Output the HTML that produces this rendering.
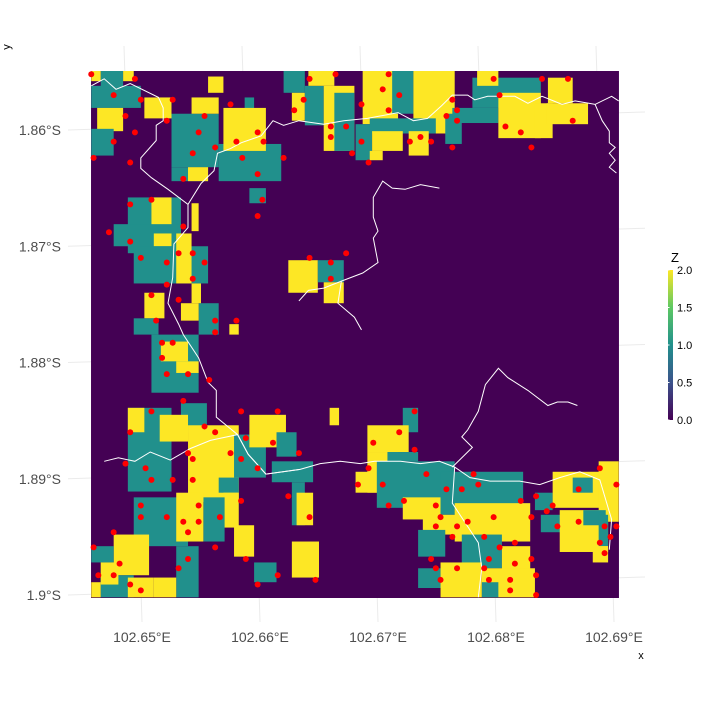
<!DOCTYPE html>
<html><head><meta charset="utf-8"><style>
html,body{margin:0;padding:0;background:#fff;}
svg{display:block;font-family:"Liberation Sans",sans-serif;}
</style></head><body>
<svg id="chart" width="701" height="706" viewBox="0 0 701 706">
<defs>
<clipPath id="panel"><rect x="91" y="71" width="528" height="527"/></clipPath>
<linearGradient id="vir" x1="0" y1="1" x2="0" y2="0">
<stop offset="0" stop-color="#440154"/><stop offset="0.25" stop-color="#3B528B"/><stop offset="0.5" stop-color="#21908C"/><stop offset="0.75" stop-color="#5DC863"/><stop offset="1" stop-color="#FDE725"/>
</linearGradient>
</defs>
<g id="grid"></g>
<g id="raster" clip-path="url(#panel)"></g>
<g id="rivers" clip-path="url(#panel)"></g>
<g id="pts"></g>
<g id="axes"></g>
<g id="legend">
<text x="675" y="262" font-size="13" fill="#000" text-anchor="middle">Z</text>
<rect x="668" y="270" width="5" height="150" fill="url(#vir)"/>
</g>
<text x="641" y="659" font-size="11" fill="#000" text-anchor="middle">x</text>
<text x="0" y="0" font-size="11" fill="#000" text-anchor="middle" transform="translate(10,47) rotate(-90)">y</text>
</svg>
<script>
const xTicks = [102.65, 102.66, 102.67, 102.68, 102.69];
const xTickLabels = ["102.65°E","102.66°E","102.67°E","102.68°E","102.69°E"];
const yTicks = [-1.86, -1.87, -1.88, -1.89, -1.90];
const yTickLabels = ["1.86°S","1.87°S","1.88°S","1.89°S","1.9°S"];
const legendValues = [0, 0.5, 1, 1.5, 2];
const legendLabels = ["0.0","0.5","1.0","1.5","2.0"];
const extent = [102.64568, 102.69042, -1.85492, -1.90026];
// raster patches: [lonMin, lonMax, latNorth, latSouth, Z]
const patches = [
[102.6457,102.6499,-1.8562,-1.8581,1],[102.6465,102.6484,-1.8549,-1.8565,1],[102.6457,102.6465,-1.8549,-1.8558,2],[102.6484,102.6493,-1.8549,-1.8558,2],
[102.6462,102.6484,-1.8581,-1.8601,2],[102.6457,102.6476,-1.8599,-1.8622,1],[102.6502,102.6525,-1.8572,-1.8590,2],[102.6556,102.6569,-1.8554,-1.8568,2],
[102.6525,102.6565,-1.8586,-1.8632,1],[102.6542,102.6565,-1.8572,-1.8586,2],[102.6587,102.6595,-1.8572,-1.8586,1],[102.6565,102.6618,-1.8612,-1.8644,1],
[102.6569,102.6605,-1.8581,-1.8618,2],[102.6525,102.6556,-1.8632,-1.8644,1],[102.6539,102.6556,-1.8632,-1.8644,2],[102.6591,102.6605,-1.8650,-1.8663,1],
[102.6620,102.6638,-1.8549,-1.8568,1],[102.6627,102.6638,-1.8568,-1.8592,2],[102.6638,102.6654,-1.8562,-1.8596,1],[102.6641,102.6663,-1.8549,-1.8562,2],
[102.6654,102.6680,-1.8562,-1.8618,2],[102.6663,102.6680,-1.8568,-1.8618,1],
[102.6488,102.6533,-1.8658,-1.8706,1],[102.6476,102.6533,-1.8681,-1.8700,1],[102.6508,102.6525,-1.8658,-1.8681,2],[102.6510,102.6525,-1.8689,-1.8700,2],
[102.6493,102.6556,-1.8700,-1.8732,1],[102.6529,102.6542,-1.8689,-1.8732,2],[102.6542,102.6548,-1.8663,-1.8687,2],[102.6502,102.6519,-1.8740,-1.8762,2],
[102.6493,102.6514,-1.8762,-1.8776,1],[102.6548,102.6565,-1.8749,-1.8776,1],[102.6533,102.6548,-1.8749,-1.8764,2],[102.6542,102.6550,-1.8732,-1.8749,2],
[102.6624,102.6649,-1.8712,-1.8740,2],[102.6649,102.6671,-1.8712,-1.8731,1],[102.6654,102.6671,-1.8731,-1.8749,2],[102.6574,102.6582,-1.8767,-1.8776,2],
[102.6687,102.6717,-1.8549,-1.8595,2],[102.6712,102.6730,-1.8549,-1.8586,1],[102.6730,102.6765,-1.8549,-1.8603,2],[102.6681,102.6695,-1.8595,-1.8626,1],
[102.6693,102.6749,-1.8590,-1.8603,1],[102.6695,102.6721,-1.8601,-1.8618,2],[102.6693,102.6704,-1.8618,-1.8626,2],[102.6726,102.6743,-1.8601,-1.8622,2],
[102.6757,102.6771,-1.8586,-1.8612,1],[102.6780,102.6838,-1.8555,-1.8581,1],[102.6784,102.6802,-1.8549,-1.8562,2],[102.6763,102.6802,-1.8581,-1.8594,1],
[102.6802,102.6838,-1.8568,-1.8607,2],[102.6833,102.6848,-1.8577,-1.8607,2],[102.6843,102.6878,-1.8577,-1.8595,2],[102.6844,102.6865,-1.8555,-1.8577,2],
[102.6508,102.6548,-1.8776,-1.8826,1],[102.6516,102.6539,-1.8782,-1.8799,2],[102.6529,102.6548,-1.8799,-1.8809,2],
[102.6488,102.6525,-1.8839,-1.8911,1],[102.6533,102.6555,-1.8835,-1.8860,1],[102.6488,102.6502,-1.8839,-1.8860,2],[102.6515,102.6539,-1.8845,-1.8868,2],
[102.6539,102.6582,-1.8854,-1.8920,2],[102.6578,102.6605,-1.8862,-1.8899,1],[102.6591,102.6622,-1.8845,-1.8873,2],[102.6614,102.6631,-1.8860,-1.8881,1],
[102.6610,102.6645,-1.8885,-1.8903,1],[102.6627,102.6638,-1.8903,-1.8940,1],[102.6631,102.6645,-1.8912,-1.8940,2],[102.6565,102.6582,-1.8899,-1.8912,1],
[102.6569,102.6582,-1.8912,-1.8942,2],[102.6493,102.6539,-1.8916,-1.8958,1],[102.6552,102.6570,-1.8916,-1.8954,1],[102.6529,102.6552,-1.8912,-1.8954,2],
[102.6578,102.6595,-1.8940,-1.8967,2],[102.6529,102.6548,-1.8958,-1.9002,1],[102.6510,102.6529,-1.8985,-1.9002,2],[102.6476,102.6506,-1.8948,-1.8983,2],
[102.6457,102.6476,-1.8958,-1.8972,1],[102.6465,102.6493,-1.8983,-1.9002,1],[102.6465,102.6480,-1.8972,-1.8991,2],[102.6457,102.6465,-1.8989,-1.9002,2],
[102.6488,102.6510,-1.8985,-1.9002,2],[102.6595,102.6614,-1.8972,-1.8989,1],[102.6627,102.6650,-1.8954,-1.8985,2],[102.6659,102.6667,-1.8839,-1.8854,2],
[102.6721,102.6734,-1.8839,-1.8860,1],[102.6691,102.6726,-1.8854,-1.8877,2],[102.6691,102.6717,-1.8877,-1.8912,2],[102.6681,102.6699,-1.8894,-1.8912,2],
[102.6708,102.6734,-1.8877,-1.8885,1],[102.6699,102.6765,-1.8885,-1.8925,1],[102.6753,102.6823,-1.8894,-1.8931,1],[102.6721,102.6753,-1.8916,-1.8935,2],
[102.6738,102.6774,-1.8931,-1.8948,2],[102.6734,102.6757,-1.8944,-1.8967,1],[102.6765,102.6829,-1.8921,-1.8954,2],[102.6771,102.6805,-1.8948,-1.8977,1],
[102.6805,102.6829,-1.8958,-1.8991,2],[102.6734,102.6753,-1.8977,-1.8994,1],[102.6753,102.6788,-1.8972,-1.9002,2],[102.6788,102.6833,-1.8977,-1.9002,2],
[102.6788,102.6802,-1.8989,-1.9002,1],[102.6833,102.6848,-1.8912,-1.8927,1],[102.6848,102.6895,-1.8894,-1.8925,2],[102.6865,102.6882,-1.8899,-1.8912,1],
[102.6887,102.6904,-1.8885,-1.8937,2],[102.6838,102.6861,-1.8931,-1.8946,1],[102.6854,102.6895,-1.8927,-1.8963,2],[102.6874,102.6893,-1.8927,-1.8940,1],
[102.6887,102.6895,-1.8931,-1.8958,1],[102.6882,102.6895,-1.8958,-1.8972,2]
];
const pointLon = [102.6457,102.6494,102.6476,102.6499,102.6526,102.6575,102.6553,102.6486,102.6521,102.6494,102.6548,102.6598,102.6476,102.6580,102.6603,102.6562,102.6543,102.6585,102.6620,102.6459,102.6490,102.6598,102.6535,102.6602,102.6508,102.6490,102.6598,102.6472,102.6535,102.6490,102.6531,102.6543,102.6499,102.6521,102.6553,102.6543,102.6521,102.6508,102.6531,102.6512,102.6562,102.6580,102.6562,102.6642,102.6664,102.6637,102.6629,102.6660,102.6673,102.6660,102.6678,102.6642,102.6660,102.6673,102.6660,102.6709,102.6798,102.6839,102.6861,102.6704,102.6718,102.6803,102.6763,102.6686,102.6709,102.6767,102.6758,102.6767,102.6865,102.6808,102.6821,102.6736,102.6686,102.6727,102.6745,102.6763,102.6830,102.6692,
102.6517,102.6526,102.6517,102.6521,102.6539,102.6557,102.6535,102.6508,102.6584,102.6615,102.6553,102.6490,102.6562,102.6588,102.6611,102.6539,102.6575,102.6633,102.6486,102.6543,102.6584,102.6503,102.6598,102.6508,102.6526,102.6543,102.6624,102.6584,102.6499,102.6548,102.6499,102.6521,102.6566,102.6642,102.6535,102.6548,102.6476,102.6539,102.6459,102.6562,102.6539,102.6588,102.6481,102.6531,102.6463,102.6476,102.6615,102.6647,102.6490,102.6598,102.6499,
102.6731,102.6718,102.6696,102.6731,102.6692,102.6888,102.6741,102.6781,102.6683,102.6704,102.6785,102.6902,102.6758,102.6771,102.6870,102.6834,102.6722,102.6821,102.6709,102.6749,102.6848,102.6843,102.6753,102.6798,102.6830,102.6776,102.6870,102.6749,102.6767,102.6852,102.6892,102.6763,102.6790,102.6897,102.6816,102.6888,102.6803,102.6892,102.6745,102.6794,102.6830,102.6816,102.6749,102.6767,102.6790,102.6834,102.6753,102.6794,102.6812,102.6812,102.6834,102.6902];
const pointLat = [-1.8552,-1.8556,-1.8570,-1.8574,-1.8574,-1.8578,-1.8588,-1.8588,-1.8592,-1.8602,-1.8602,-1.8602,-1.8610,-1.8610,-1.8610,-1.8615,-1.8620,-1.8624,-1.8624,-1.8624,-1.8628,-1.8638,-1.8642,-1.8660,-1.8660,-1.8664,-1.8674,-1.8688,-1.8683,-1.8696,-1.8706,-1.8706,-1.8710,-1.8714,-1.8714,-1.8728,-1.8733,-1.8742,-1.8746,-1.8764,-1.8764,-1.8764,-1.8774,-1.8556,-1.8552,-1.8574,-1.8583,-1.8597,-1.8597,-1.8606,-1.8620,-1.8710,-1.8714,-1.8706,-1.8728,-1.8552,-1.8556,-1.8556,-1.8556,-1.8565,-1.8570,-1.8570,-1.8574,-1.8578,-1.8583,-1.8583,-1.8588,-1.8592,-1.8592,-1.8597,-1.8602,-1.8606,-1.8610,-1.8610,-1.8610,-1.8615,-1.8615,-1.8628,
-1.8783,-1.8783,-1.8796,-1.8810,-1.8810,-1.8815,-1.8833,-1.8842,-1.8842,-1.8842,-1.8855,-1.8860,-1.8860,-1.8865,-1.8869,-1.8878,-1.8878,-1.8878,-1.8887,-1.8883,-1.8883,-1.8891,-1.8891,-1.8901,-1.8901,-1.8901,-1.8915,-1.8919,-1.8923,-1.8923,-1.8933,-1.8933,-1.8933,-1.8933,-1.8937,-1.8937,-1.8946,-1.8946,-1.8959,-1.8959,-1.8969,-1.8969,-1.8973,-1.8977,-1.8983,-1.8983,-1.8983,-1.8987,-1.8991,-1.8991,-1.8996,
-1.8842,-1.8860,-1.8869,-1.8875,-1.8891,-1.8891,-1.8896,-1.8896,-1.8905,-1.8905,-1.8905,-1.8905,-1.8909,-1.8909,-1.8909,-1.8915,-1.8919,-1.8919,-1.8923,-1.8923,-1.8923,-1.8928,-1.8933,-1.8933,-1.8933,-1.8937,-1.8937,-1.8941,-1.8941,-1.8941,-1.8941,-1.8950,-1.8950,-1.8950,-1.8955,-1.8955,-1.8959,-1.8964,-1.8969,-1.8969,-1.8969,-1.8973,-1.8977,-1.8977,-1.8977,-1.8983,-1.8987,-1.8987,-1.8987,-1.8996,-1.9000,-1.8941];
const riverTop = [[102.6457,-1.8562],[102.6468,-1.8556],[102.6478,-1.8565],[102.6490,-1.8560],[102.6514,-1.8572],[102.6518,-1.8581],[102.6518,-1.8592],[102.6512,-1.8596],[102.6512,-1.8609],[102.6499,-1.8624],[102.6499,-1.8633],[102.6508,-1.8641],[102.6522,-1.8651],[102.6539,-1.8664],[102.6550,-1.8646],[102.6561,-1.8635],[102.6564,-1.8620],[102.6575,-1.8616],[102.6584,-1.8611],[102.6601,-1.8605],[102.6611,-1.8592],[102.6620,-1.8596],[102.6633,-1.8592],[102.6654,-1.8595],[102.6671,-1.8592],[102.6691,-1.8590],[102.6717,-1.8585],[102.6730,-1.8592],[102.6742,-1.8590],[102.6754,-1.8579],[102.6763,-1.8570],[102.6776,-1.8570],[102.6782,-1.8574],[102.6793,-1.8571],[102.6816,-1.8571],[102.6827,-1.8577],[102.6839,-1.8571],[102.6856,-1.8578],[102.6867,-1.8575],[102.6884,-1.8578],[102.6898,-1.8571],[102.6904,-1.8575]];
const riverEast = [[102.6884,-1.8578],[102.6890,-1.8592],[102.6896,-1.8601],[102.6896,-1.8611],[102.6901,-1.8615],[102.6896,-1.8620],[102.6901,-1.8626],[102.6896,-1.8632],[102.6902,-1.8637]];
const riverWest = [[102.6539,-1.8664],[102.6539,-1.8684],[102.6527,-1.8698],[102.6526,-1.8727],[102.6522,-1.8749],[102.6531,-1.8767],[102.6535,-1.8776],[102.6548,-1.8796],[102.6556,-1.8817],[102.6563,-1.8824],[102.6563,-1.8847],[102.6581,-1.8862],[102.6590,-1.8879],[102.6605,-1.8896],[102.6634,-1.8892]];
const riverSouth = [[102.6468,-1.8885],[102.6480,-1.8882],[102.6494,-1.8885],[102.6507,-1.8877],[102.6524,-1.8884],[102.6541,-1.8874],[102.6558,-1.8867],[102.6581,-1.8862],[102.6590,-1.8879],[102.6605,-1.8896],[102.6634,-1.8892],[102.6651,-1.8887],[102.6668,-1.8885],[102.6685,-1.8887],[102.6697,-1.8885],[102.6719,-1.8885],[102.6736,-1.8887],[102.6752,-1.8885],[102.6765,-1.8890],[102.6778,-1.8899],[102.6795,-1.8902],[102.6820,-1.8902],[102.6837,-1.8905],[102.6854,-1.8899],[102.6871,-1.8894],[102.6888,-1.8901],[102.6898,-1.8935],[102.6896,-1.8961]];
const riverSE = [[102.6765,-1.8890],[102.6763,-1.8921],[102.6774,-1.8938],[102.6785,-1.8955],[102.6788,-1.8977],[102.6785,-1.9002]];
const riverNE = [[102.6763,-1.8890],[102.6780,-1.8873],[102.6771,-1.8864],[102.6776,-1.8858],[102.6785,-1.8842],[102.6791,-1.8819],[102.6802,-1.8805],[102.6810,-1.8813],[102.6827,-1.8824],[102.6844,-1.8837],[102.6852,-1.8834],[102.6861,-1.8834],[102.6869,-1.8837]];
const riverMid = [[102.6752,-1.8650],[102.6736,-1.8647],[102.6723,-1.8651],[102.6712,-1.8650],[102.6704,-1.8644],[102.6696,-1.8658],[102.6696,-1.8675],[102.6700,-1.8687],[102.6696,-1.8693],[102.6700,-1.8714],[102.6687,-1.8723],[102.6669,-1.8730],[102.6654,-1.8736],[102.6641,-1.8738],[102.6633,-1.8747]];
const riverMidBranch = [[102.6669,-1.8730],[102.6666,-1.8749],[102.6680,-1.8761],[102.6686,-1.8772]];

const NS = "http://www.w3.org/2000/svg";
function xS(lon){ return 142 + (lon - 102.65) * 11800; }
function yS(lat){ return 130 + (-1.86 - lat) * 11625; }
function zColor(z){ return z >= 1.5 ? "#FDE725" : (z >= 0.5 ? "#21908C" : "#440154"); }
function legY(v){ return 420 - v / 2 * 150; }
function mk(tag, parent){ const e = document.createElementNS(NS, tag); parent.appendChild(e); return e; }

// graticule
const grid = document.getElementById("grid");
xTicks.forEach(function(t){
  const l = mk("line", grid);
  
  
  const xb = xS(t);
  l.setAttribute("x1", xb - 18); l.setAttribute("y1", 46);
  l.setAttribute("x2", xb); l.setAttribute("y2", 622);
  l.setAttribute("stroke", "#EBEBEB"); l.setAttribute("stroke-width", "1");
});
yTicks.forEach(function(t){
  const l = mk("line", grid);
  
  
  const yl = yS(t);
  l.setAttribute("x1", 68); l.setAttribute("y1", yl);
  l.setAttribute("x2", 645); l.setAttribute("y2", yl - 18);
  l.setAttribute("stroke", "#EBEBEB"); l.setAttribute("stroke-width", "1");
});

// raster
const raster = document.getElementById("raster");
const bg = mk("rect", raster);


bg.setAttribute("x", xS(extent[0])); bg.setAttribute("y", yS(extent[2]));
bg.setAttribute("width", xS(extent[1]) - xS(extent[0])); bg.setAttribute("height", yS(extent[3]) - yS(extent[2]));
bg.setAttribute("fill", zColor(0));
patches.forEach(function(p){
  const r = mk("rect", raster);
  
  
  r.setAttribute("x", xS(p[0])); r.setAttribute("y", yS(p[2]));
  r.setAttribute("width", xS(p[1]) - xS(p[0])); r.setAttribute("height", yS(p[3]) - yS(p[2]));
  r.setAttribute("fill", zColor(p[4]));
});

// rivers
const rv = document.getElementById("rivers");
[riverTop, riverEast, riverWest, riverSouth, riverSE, riverNE, riverMid, riverMidBranch].forEach(function(line){
  const pl = mk("polyline", rv);
  
  
  pl.setAttribute("points", line.map(function(q){ return xS(q[0]).toFixed(1) + "," + yS(q[1]).toFixed(1); }).join(" "));
  pl.setAttribute("fill", "none"); pl.setAttribute("stroke", "#fff"); pl.setAttribute("stroke-width", "1");
});

// points
const pg = document.getElementById("pts");
pointLon.forEach(function(lon, i){
  const c = mk("circle", pg);
  
  
  c.setAttribute("cx", xS(lon)); c.setAttribute("cy", yS(pointLat[i])); c.setAttribute("r", 3);
  c.setAttribute("fill", "#FF0000");
});

// axes labels
const ax = document.getElementById("axes");
xTicks.forEach(function(t, i){
  const tx = mk("text", ax);
  
  
  tx.setAttribute("x", xS(t)); tx.setAttribute("y", 642);
  tx.setAttribute("text-anchor", "middle"); tx.setAttribute("font-size", "14"); tx.setAttribute("fill", "#4D4D4D");
  tx.textContent = xTickLabels[i];
});
yTicks.forEach(function(t, i){
  const tx = mk("text", ax);
  
  
  tx.setAttribute("x", 61); tx.setAttribute("y", yS(t) + 5);
  tx.setAttribute("text-anchor", "end"); tx.setAttribute("font-size", "14"); tx.setAttribute("fill", "#4D4D4D");
  tx.textContent = yTickLabels[i];
});

// legend
const lg = document.getElementById("legend");
legendValues.forEach(function(v, i){
  const y = legY(v);
  const tk = mk("line", lg);
  
  
  tk.setAttribute("x1", 668); tk.setAttribute("x2", 669.5); tk.setAttribute("y1", y); tk.setAttribute("y2", y);
  tk.setAttribute("stroke", "#fff"); tk.setAttribute("stroke-width", "1");
  const tx = mk("text", lg);
  
  
  tx.setAttribute("x", 677); tx.setAttribute("y", y + 4);
  tx.setAttribute("font-size", "11"); tx.setAttribute("fill", "#000");
  tx.textContent = legendLabels[i];
});
</script>
</body></html>
